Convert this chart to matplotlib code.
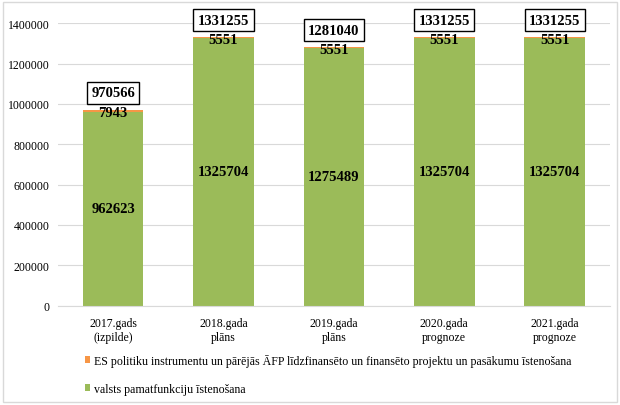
import matplotlib
matplotlib.use("Agg")
import matplotlib.pyplot as plt
from matplotlib.patches import Rectangle
from matplotlib.ticker import StrMethodFormatter

categories = ["2017.gads\n(izpilde)", "2018.gada\nplāns", "2019.gada\nplāns",
              "2020.gada\nprognoze", "2021.gada\nprognoze"]
base_values = [962623, 1325704, 1275489, 1325704, 1325704]
es_values = [7943, 5551, 5551, 5551, 5551]
totals = [970566, 1331255, 1281040, 1331255, 1331255]
series_names = [
    "ES politiku instrumentu un pārējās ĀFP līdzfinansēto un finansēto projektu un pasākumu īstenošana",
    "valsts pamatfunkciju īstenošana",
]

GREEN = "#9bbb59"
ORANGE = "#f79646"

plt.rcParams["font.family"] = ["Liberation Serif", "DejaVu Serif"]

fig = plt.figure(figsize=(6.2, 4.06), dpi=100)
ax = fig.add_axes([0.0935, 0.245, 0.89, 0.695])

x = range(len(categories))
ax.bar(x, base_values, width=0.55, color=GREEN, zorder=2, label=series_names[1])
ax.bar(x, es_values, width=0.55, bottom=base_values, color=ORANGE, zorder=2,
       label=series_names[0])

for i in x:
    ax.text(i, base_values[i] / 2, f"{base_values[i]}", ha="center", va="center",
            fontsize=10.5, fontweight="bold", zorder=3)
    ax.text(i, totals[i] - 12000, f"{es_values[i]}", ha="center", va="center",
            fontsize=10.5, fontweight="bold", zorder=3)
    ax.text(i, totals[i] + 85000, f"{totals[i]}", ha="center", va="center",
            fontsize=10.5, fontweight="bold", zorder=4, clip_on=False,
            bbox=dict(boxstyle="square,pad=0.3", fc="white", ec="black", lw=1))

ax.set_xlim(-0.5, len(categories) - 0.5)
ax.set_ylim(0, 1400000)
ax.set_yticks(range(0, 1400001, 200000))
ax.yaxis.set_major_formatter(StrMethodFormatter("{x:.0f}"))
ax.set_xticks(list(x))
ax.set_xticklabels(categories, fontsize=8.5, linespacing=1.3)
ax.tick_params(axis="y", labelsize=8.5, length=0, pad=6)
ax.tick_params(axis="x", length=0, pad=8)
ax.grid(axis="y", color="#d9d9d9", lw=0.8, zorder=0)
for side in ["top", "right", "left"]:
    ax.spines[side].set_visible(False)
ax.spines["bottom"].set_color("#d9d9d9")

handles, labels = ax.get_legend_handles_labels()
fig.legend(handles[::-1], labels[::-1], loc="upper left", bbox_to_anchor=(0.129, 0.138),
           frameon=False, fontsize=8.6, handlelength=0.45, handleheight=0.45,
           handletextpad=0.35, labelspacing=1.35, borderaxespad=0)

fig.patches.append(Rectangle((0.005, 0.008), 0.99, 0.984, transform=fig.transFigure,
                             fill=False, ec="#d9d9d9", lw=1))

fig.savefig("out.png", dpi=100)
